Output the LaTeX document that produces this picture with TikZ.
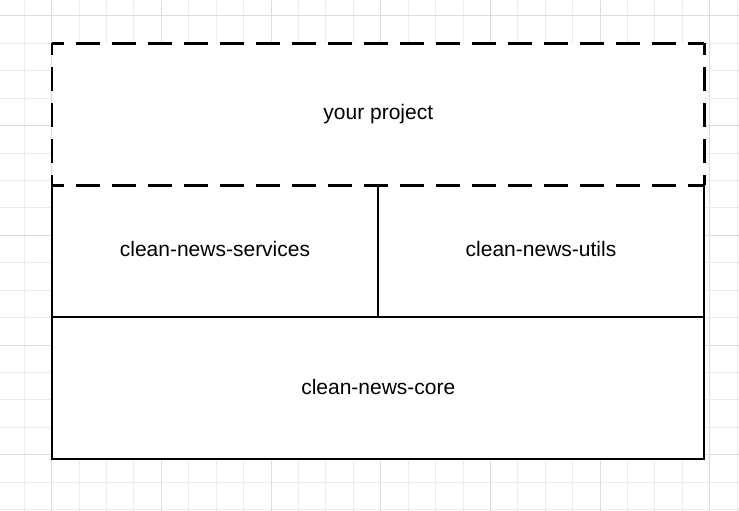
\documentclass[tikz,border=0pt]{standalone}
\usepackage{fontspec}
\setmainfont{Liberation Sans}
\definecolor{gridminor}{HTML}{EBEBEB}
\definecolor{gridmajor}{HTML}{DCDCDC}
\tikzset{
  boxline/.style={line width=2.3pt, black},
  dashline/.style={line width=2.5pt, black, dash pattern=on 24pt off 12pt, dash phase=12pt},
  lbl/.style={font=\fontsize{21}{25}\selectfont, inner sep=0pt, anchor=center},
}
\begin{document}
\begin{tikzpicture}[x=1pt,y=-1pt]
\useasboundingbox (0,0) rectangle (739,511);
\fill[white] (0,0) rectangle (739,511);
% grid
\begin{scope}
\clip (0,0) rectangle (739,511);
\foreach \k in {0,...,26} {
  \pgfmathsetmacro{\xx}{24.3+27.42*\k}
  \pgfmathtruncatemacro{\m}{mod(\k,4)}
  \ifnum\m=1
    \draw[gridmajor, line width=1pt] (\xx,0) -- (\xx,511);
  \else
    \draw[gridminor, line width=1pt] (\xx,0) -- (\xx,511);
  \fi
}
\foreach \k in {0,...,18} {
  \pgfmathsetmacro{\yy}{16+27.42*\k}
  \pgfmathtruncatemacro{\m}{mod(\k,4)}
  \ifnum\m=0
    \draw[gridmajor, line width=1pt] (0,\yy) -- (739,\yy);
  \else
    \draw[gridminor, line width=1pt] (0,\yy) -- (739,\yy);
  \fi
}
\end{scope}
% box coordinates
\coordinate (tl) at (52,43.3);
\coordinate (tr) at (704.3,43.3);
\coordinate (ml) at (52,185.3);
\coordinate (mr) at (704.3,185.3);
\coordinate (ll) at (52,317.3);
\coordinate (lr) at (704.3,317.3);
\coordinate (bl) at (52,459.3);
\coordinate (br) at (704.3,459.3);
\coordinate (dt) at (378.3,185.3);
\coordinate (db) at (378.3,317.3);
\fill[white] (tl) rectangle (br);
% solid parts
\draw[boxline] (ml) -- (bl) -- (br) -- (mr);
\draw[boxline] (ll) -- (lr);
\draw[boxline] (dt) -- (db);
% dashed parts
\draw[dashline] (tl) -- (tr);
\draw[dashline] (tl) -- (ml);
\draw[dashline] (tr) -- (mr);
\draw[dashline] (ml) -- (mr);
% labels
\node[lbl] (proj) at (378.3,114) {your project};
\node[lbl] (services) at (215,249) {clean-news-services};
\node[lbl] (utils) at (541,249) {clean-news-utils};
\node[lbl] (core) at (378.3,387.2) {clean-news-core};
\end{tikzpicture}
\end{document}
